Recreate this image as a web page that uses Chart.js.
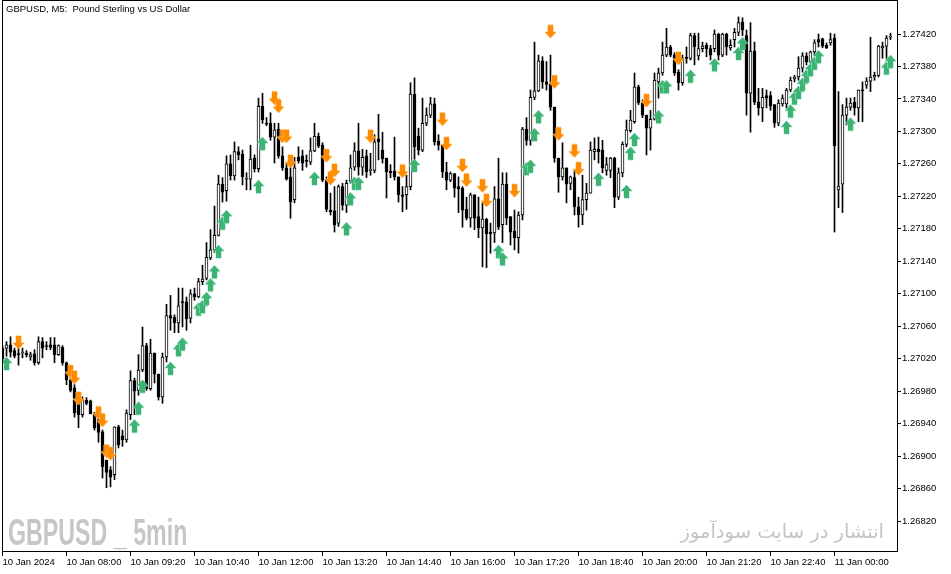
<!DOCTYPE html>
<html>
<head>
<meta charset="utf-8">
<script src="https://cdn.jsdelivr.net/npm/chart.js@4.4.1/dist/chart.umd.min.js"></script>
<style>
  html, body { margin: 0; padding: 0; background: #fff; }
  #wrap { position: relative; width: 951px; height: 574px; overflow: hidden; }
  #wrap canvas { position: absolute; left: 0; top: 0; }
  .txt { position: absolute; white-space: pre; }
  #title { left: 6px; top: 3px; font: 9.5px "Liberation Sans", Arial, sans-serif; color: #000; }
  #wmLeft { left: 8px; top: 512px; font: bold 36px "Liberation Sans", Arial, sans-serif; color: #c6c6c6; transform-origin: 0 0; transform: scaleX(0.645); }
  #wmRight { left: 660px; top: 520px; width: 224px; text-align: right; font: 19.5px "DejaVu Sans", sans-serif; color: #c4c4c4; direction: rtl; }
</style>
</head>
<body>
<div id="wrap">
  <canvas id="chart" width="951" height="574"></canvas>
  <div class="txt" id="title">GBPUSD, M5:  Pound Sterling vs US Dollar</div>
  <div class="txt" id="wmLeft">GBPUSD _ 5min</div>
  <div class="txt" id="wmRight">انتشار در سایت سودآموز</div>
</div>
<script>
  // ---------- data: GBPUSD M5, 10 Jan 2024 06:40 -> 11 Jan 01:10 ----------

  const xTickIdx = [0, 16, 32, 48, 64, 80, 96, 112, 128, 144, 160, 176, 192, 208];
  const xTickLabels = [
    "10 Jan 2024", "10 Jan 08:00", "10 Jan 09:20", "10 Jan 10:40", "10 Jan 12:00",
    "10 Jan 13:20", "10 Jan 14:40", "10 Jan 16:00", "10 Jan 17:20", "10 Jan 18:40",
    "10 Jan 20:00", "10 Jan 21:20", "10 Jan 22:40", "11 Jan 00:00"
  ];
  const yTicks = [1.26820, 1.26860, 1.26900, 1.26940, 1.26980, 1.27020, 1.27060, 1.27100,
    1.27140, 1.27180, 1.27220, 1.27260, 1.27300, 1.27340, 1.27380, 1.27420];

  const opens = [
    1.27033, 1.27033, 1.27037, 1.27030, 1.27026, 1.27027, 1.27027, 1.27022, 1.27026, 1.27015,
    1.27041, 1.27036, 1.27037, 1.27037, 1.27025, 1.27034, 1.27015, 1.26994, 1.26984, 1.26967,
    1.26951, 1.26969, 1.26968, 1.26952, 1.26945, 1.26930, 1.26895, 1.26883, 1.26877, 1.26936,
    1.26925, 1.26920, 1.26951, 1.26993, 1.26981, 1.27006, 1.27036, 1.26983, 1.27027, 1.27001,
    1.26973, 1.27022, 1.27073, 1.27071, 1.27064, 1.27090, 1.27090, 1.27070, 1.27100, 1.27096,
    1.27115, 1.27119, 1.27144, 1.27154, 1.27172, 1.27235, 1.27227, 1.27260, 1.27245, 1.27275,
    1.27272, 1.27241, 1.27241, 1.27267, 1.27254, 1.27331, 1.27310, 1.27310, 1.27293, 1.27303,
    1.27270, 1.27255, 1.27244, 1.27216, 1.27268, 1.27270, 1.27264, 1.27262, 1.27276, 1.27294,
    1.27283, 1.27240, 1.27203, 1.27202, 1.27187, 1.27232, 1.27209, 1.27239, 1.27256, 1.27276,
    1.27256, 1.27270, 1.27252, 1.27252, 1.27291, 1.27277, 1.27267, 1.27251, 1.27251, 1.27244,
    1.27222, 1.27222, 1.27232, 1.27346, 1.27294, 1.27277, 1.27310, 1.27320, 1.27334, 1.27288,
    1.27283, 1.27250, 1.27240, 1.27248, 1.27232, 1.27230, 1.27204, 1.27193, 1.27222, 1.27195,
    1.27181, 1.27192, 1.27176, 1.27175, 1.27217, 1.27185, 1.27235, 1.27195, 1.27177, 1.27169,
    1.27197, 1.27303, 1.27289, 1.27342, 1.27350, 1.27387, 1.27361, 1.27358, 1.27330, 1.27267,
    1.27244, 1.27255, 1.27236, 1.27243, 1.27207, 1.27197, 1.27216, 1.27224, 1.27275, 1.27278,
    1.27277, 1.27252, 1.27252, 1.27267, 1.27219, 1.27249, 1.27284, 1.27301, 1.27312, 1.27355,
    1.27335, 1.27320, 1.27304, 1.27315, 1.27361, 1.27372, 1.27394, 1.27404, 1.27394, 1.27373,
    1.27360, 1.27391, 1.27390, 1.27418, 1.27393, 1.27402, 1.27406, 1.27402, 1.27402, 1.27420,
    1.27394, 1.27420, 1.27403, 1.27413, 1.27422, 1.27435, 1.27418, 1.27347, 1.27399, 1.27336,
    1.27329, 1.27344, 1.27344, 1.27333, 1.27310, 1.27334, 1.27334, 1.27351, 1.27365, 1.27367,
    1.27378, 1.27393, 1.27386, 1.27398, 1.27413, 1.27414, 1.27406, 1.27409, 1.27415, 1.27228,
    1.27235, 1.27320, 1.27330, 1.27336, 1.27329, 1.27351, 1.27357, 1.27362, 1.27367, 1.27369,
    1.27403, 1.27405, 1.27416
  ];
  const highs = [
    1.27036, 1.27041, 1.27047, 1.27033, 1.27037, 1.27033, 1.27030, 1.27028, 1.27031, 1.27047,
    1.27046, 1.27041, 1.27046, 1.27046, 1.27037, 1.27036, 1.27016, 1.26996, 1.26988, 1.26969,
    1.26973, 1.26972, 1.26969, 1.26954, 1.26947, 1.26932, 1.26895, 1.26887, 1.26936, 1.26938,
    1.26932, 1.26957, 1.27005, 1.26996, 1.27025, 1.27059, 1.27039, 1.27044, 1.27027, 1.27001,
    1.27027, 1.27087, 1.27098, 1.27074, 1.27107, 1.27107, 1.27096, 1.27105, 1.27107, 1.27119,
    1.27135, 1.27163, 1.27179, 1.27208, 1.27246, 1.27243, 1.27270, 1.27271, 1.27287, 1.27281,
    1.27277, 1.27249, 1.27283, 1.27271, 1.27341, 1.27347, 1.27317, 1.27323, 1.27310, 1.27310,
    1.27281, 1.27261, 1.27261, 1.27268, 1.27281, 1.27277, 1.27271, 1.27292, 1.27310, 1.27298,
    1.27286, 1.27244, 1.27224, 1.27232, 1.27234, 1.27236, 1.27240, 1.27271, 1.27286, 1.27310,
    1.27278, 1.27277, 1.27273, 1.27296, 1.27321, 1.27299, 1.27267, 1.27259, 1.27293, 1.27244,
    1.27232, 1.27246, 1.27360, 1.27366, 1.27304, 1.27341, 1.27329, 1.27342, 1.27341, 1.27296,
    1.27283, 1.27262, 1.27250, 1.27248, 1.27244, 1.27232, 1.27219, 1.27224, 1.27222, 1.27219,
    1.27212, 1.27193, 1.27187, 1.27232, 1.27267, 1.27249, 1.27249, 1.27195, 1.27203, 1.27201,
    1.27305, 1.27317, 1.27351, 1.27410, 1.27394, 1.27392, 1.27386, 1.27394, 1.27330, 1.27267,
    1.27286, 1.27255, 1.27245, 1.27252, 1.27219, 1.27246, 1.27236, 1.27287, 1.27292, 1.27293,
    1.27289, 1.27268, 1.27268, 1.27268, 1.27255, 1.27287, 1.27314, 1.27326, 1.27372, 1.27357,
    1.27339, 1.27320, 1.27326, 1.27372, 1.27378, 1.27410, 1.27427, 1.27406, 1.27397, 1.27376,
    1.27394, 1.27404, 1.27421, 1.27421, 1.27421, 1.27410, 1.27409, 1.27406, 1.27425, 1.27421,
    1.27421, 1.27421, 1.27413, 1.27427, 1.27441, 1.27440, 1.27425, 1.27434, 1.27410, 1.27353,
    1.27353, 1.27351, 1.27349, 1.27333, 1.27339, 1.27345, 1.27353, 1.27367, 1.27369, 1.27392,
    1.27397, 1.27397, 1.27399, 1.27413, 1.27420, 1.27415, 1.27409, 1.27421, 1.27420, 1.27349,
    1.27333, 1.27341, 1.27341, 1.27342, 1.27351, 1.27361, 1.27366, 1.27416, 1.27373, 1.27406,
    1.27410, 1.27418, 1.27421
  ];
  const lows = [
    1.27016, 1.27023, 1.27022, 1.27021, 1.27012, 1.27021, 1.27022, 1.27018, 1.27012, 1.27013,
    1.27021, 1.27031, 1.27031, 1.27015, 1.27024, 1.27012, 1.26988, 1.26979, 1.26948, 1.26935,
    1.26948, 1.26963, 1.26952, 1.26932, 1.26917, 1.26873, 1.26861, 1.26862, 1.26871, 1.26910,
    1.26912, 1.26917, 1.26945, 1.26951, 1.26975, 1.27004, 1.26981, 1.26981, 1.26990, 1.26969,
    1.26965, 1.27016, 1.27055, 1.27052, 1.27052, 1.27059, 1.27055, 1.27064, 1.27092, 1.27095,
    1.27111, 1.27117, 1.27142, 1.27151, 1.27171, 1.27213, 1.27214, 1.27240, 1.27240, 1.27265,
    1.27234, 1.27228, 1.27228, 1.27250, 1.27250, 1.27310, 1.27307, 1.27289, 1.27261, 1.27267,
    1.27252, 1.27240, 1.27193, 1.27212, 1.27261, 1.27252, 1.27256, 1.27259, 1.27275, 1.27280,
    1.27238, 1.27201, 1.27197, 1.27176, 1.27183, 1.27203, 1.27200, 1.27236, 1.27252, 1.27246,
    1.27246, 1.27243, 1.27246, 1.27249, 1.27265, 1.27261, 1.27218, 1.27243, 1.27240, 1.27213,
    1.27201, 1.27204, 1.27228, 1.27265, 1.27271, 1.27275, 1.27307, 1.27317, 1.27283, 1.27277,
    1.27243, 1.27228, 1.27238, 1.27219, 1.27200, 1.27182, 1.27191, 1.27182, 1.27179, 1.27169,
    1.27133, 1.27132, 1.27150, 1.27163, 1.27179, 1.27163, 1.27185, 1.27160, 1.27154, 1.27150,
    1.27191, 1.27283, 1.27283, 1.27339, 1.27349, 1.27353, 1.27351, 1.27326, 1.27262, 1.27225,
    1.27240, 1.27212, 1.27228, 1.27197, 1.27182, 1.27185, 1.27203, 1.27224, 1.27265, 1.27261,
    1.27249, 1.27246, 1.27243, 1.27206, 1.27216, 1.27244, 1.27281, 1.27299, 1.27310, 1.27333,
    1.27317, 1.27271, 1.27277, 1.27314, 1.27341, 1.27369, 1.27392, 1.27392, 1.27369, 1.27351,
    1.27357, 1.27384, 1.27388, 1.27382, 1.27388, 1.27398, 1.27392, 1.27388, 1.27398, 1.27388,
    1.27392, 1.27394, 1.27400, 1.27404, 1.27418, 1.27418, 1.27320, 1.27299, 1.27333, 1.27320,
    1.27312, 1.27329, 1.27326, 1.27305, 1.27307, 1.27331, 1.27329, 1.27349, 1.27361, 1.27363,
    1.27373, 1.27382, 1.27384, 1.27394, 1.27404, 1.27403, 1.27402, 1.27406, 1.27176, 1.27206,
    1.27200, 1.27308, 1.27326, 1.27320, 1.27312, 1.27312, 1.27353, 1.27349, 1.27363, 1.27367,
    1.27390, 1.27390, 1.27413
  ];
  const closes = [
    1.27020, 1.27037, 1.27028, 1.27023, 1.27025, 1.27028, 1.27025, 1.27025, 1.27015, 1.27041,
    1.27033, 1.27035, 1.27034, 1.27025, 1.27036, 1.27015, 1.26994, 1.26981, 1.26953, 1.26951,
    1.26970, 1.26965, 1.26952, 1.26935, 1.26929, 1.26887, 1.26880, 1.26874, 1.26936, 1.26914,
    1.26920, 1.26953, 1.26993, 1.26980, 1.27006, 1.27036, 1.26983, 1.27027, 1.27001, 1.26973,
    1.27022, 1.27073, 1.27070, 1.27064, 1.27085, 1.27089, 1.27069, 1.27100, 1.27096, 1.27115,
    1.27118, 1.27145, 1.27154, 1.27172, 1.27235, 1.27225, 1.27260, 1.27245, 1.27275, 1.27271,
    1.27244, 1.27242, 1.27266, 1.27254, 1.27331, 1.27314, 1.27309, 1.27293, 1.27302, 1.27270,
    1.27255, 1.27241, 1.27213, 1.27255, 1.27264, 1.27261, 1.27263, 1.27276, 1.27294, 1.27282,
    1.27240, 1.27204, 1.27201, 1.27185, 1.27232, 1.27209, 1.27236, 1.27255, 1.27276, 1.27256,
    1.27268, 1.27250, 1.27253, 1.27287, 1.27287, 1.27266, 1.27250, 1.27249, 1.27244, 1.27222,
    1.27220, 1.27232, 1.27346, 1.27281, 1.27277, 1.27310, 1.27320, 1.27334, 1.27287, 1.27283,
    1.27250, 1.27240, 1.27248, 1.27230, 1.27229, 1.27203, 1.27193, 1.27222, 1.27193, 1.27181,
    1.27192, 1.27174, 1.27174, 1.27217, 1.27182, 1.27235, 1.27193, 1.27176, 1.27169, 1.27197,
    1.27303, 1.27289, 1.27342, 1.27350, 1.27387, 1.27361, 1.27358, 1.27330, 1.27267, 1.27244,
    1.27255, 1.27235, 1.27244, 1.27207, 1.27197, 1.27216, 1.27224, 1.27277, 1.27278, 1.27275,
    1.27255, 1.27259, 1.27267, 1.27219, 1.27249, 1.27284, 1.27302, 1.27314, 1.27355, 1.27335,
    1.27320, 1.27304, 1.27315, 1.27363, 1.27372, 1.27394, 1.27404, 1.27394, 1.27372, 1.27360,
    1.27390, 1.27390, 1.27418, 1.27404, 1.27402, 1.27405, 1.27402, 1.27394, 1.27420, 1.27394,
    1.27420, 1.27404, 1.27406, 1.27422, 1.27434, 1.27425, 1.27347, 1.27399, 1.27336, 1.27329,
    1.27342, 1.27341, 1.27331, 1.27310, 1.27335, 1.27341, 1.27351, 1.27363, 1.27367, 1.27378,
    1.27393, 1.27386, 1.27398, 1.27409, 1.27410, 1.27405, 1.27403, 1.27413, 1.27282, 1.27232,
    1.27320, 1.27330, 1.27335, 1.27329, 1.27351, 1.27350, 1.27362, 1.27367, 1.27369, 1.27405,
    1.27405, 1.27415, 1.27416
  ];

  // signal arrows: bar index + price of the arrow tip
  const upBars = [1, 33, 34, 35, 42, 44, 45, 49, 50, 51, 52, 53, 54, 55, 56, 64, 65, 78, 86, 87,
    88, 89, 103, 124, 125, 131, 132, 133, 134, 149, 156, 157, 158, 164, 165, 166, 172, 178, 184, 185,
    196, 197, 198, 199, 200, 201, 202, 203, 204, 212, 221, 222];
  const upPrices = [1.27022, 1.26945, 1.26967, 1.26994, 1.27016, 1.27039, 1.27046, 1.27089, 1.27092, 1.27102,
    1.27119, 1.27135, 1.27160, 1.27195, 1.27203, 1.27240, 1.27293, 1.27250, 1.27188, 1.27225,
    1.27244, 1.27244, 1.27266, 1.27160, 1.27151, 1.27262, 1.27265, 1.27304, 1.27326, 1.27249,
    1.27234, 1.27281, 1.27298, 1.27326, 1.27363, 1.27363, 1.27376, 1.27390, 1.27404, 1.27416,
    1.27313, 1.27333, 1.27349, 1.27356, 1.27366, 1.27376, 1.27384, 1.27392, 1.27400, 1.27317,
    1.27386, 1.27394];
  const downBars = [4, 17, 18, 19, 24, 25, 26, 27, 68, 69, 70, 71, 72, 81, 82, 83, 92, 100, 110, 111,
    115, 116, 120, 121, 128, 137, 138, 139, 143, 144, 161, 169];
  const downPrices = [1.27032, 1.26996, 1.26989, 1.26963, 1.26945, 1.26936, 1.26898, 1.26895, 1.27333, 1.27323,
    1.27286, 1.27286, 1.27255, 1.27262, 1.27234, 1.27244, 1.27286, 1.27243, 1.27307, 1.27277,
    1.27250, 1.27232, 1.27225, 1.27207, 1.27219, 1.27415, 1.27353, 1.27289, 1.27268, 1.27246,
    1.27330, 1.27382];

  // ---------- helpers ----------

  // arrow sprite; tip sits at the sprite centre so the point value is the tip price
  function makeArrow(up, color, halo) {
    const c = document.createElement("canvas");
    c.width = 13;
    c.height = 30;
    const g = c.getContext("2d");
    g.beginPath();
    if (up) {
      g.moveTo(6.5, 15); g.lineTo(12, 21); g.lineTo(9, 21); g.lineTo(9, 28);
      g.lineTo(4, 28); g.lineTo(4, 21); g.lineTo(1, 21);
    } else {
      g.moveTo(6.5, 15); g.lineTo(12, 9); g.lineTo(9, 9); g.lineTo(9, 2);
      g.lineTo(4, 2); g.lineTo(4, 9); g.lineTo(1, 9);
    }
    g.closePath();
    g.strokeStyle = halo;
    g.lineWidth = 1;
    g.stroke();
    g.fillStyle = color;
    g.fill();
    return c;
  }

  const frame = {
    id: "frame",
    afterDraw(chart) {
      const { ctx, chartArea: a } = chart;
      ctx.save();
      ctx.strokeStyle = "#000";
      ctx.lineWidth = 1;
      ctx.strokeRect(a.left + 0.5, a.top - 0.5, a.right - a.left, a.bottom - a.top + 1);
      ctx.restore();
    }
  };

  const noPad = (s) => { s.paddingLeft = 0; s.paddingRight = 0; s.paddingTop = 0; s.paddingBottom = 0; };

  // ---------- chart ----------

  Chart.defaults.font.family = "'Liberation Sans', Arial, sans-serif";
  Chart.defaults.font.size = 9.5;
  Chart.defaults.color = "#000";

  const bodyData = closes.map((c, i) => ({ x: i, y: [opens[i], c] }));
  const wickData = highs.map((h, i) => ({ x: i, y: [lows[i], h] }));
  const bodyFill = closes.map((c, i) => (c >= opens[i] ? "#ffffff" : "#000000"));

  new Chart(document.getElementById("chart"), {
    type: "bar",
    data: {
      datasets: [
        {
          label: "wick",
          data: wickData,
          backgroundColor: "#000",
          borderWidth: 0,
          barThickness: 1,
          grouped: false,
          order: 3
        },
        {
          label: "body",
          data: bodyData,
          backgroundColor: bodyFill,
          borderColor: "#000",
          borderWidth: 1,
          borderSkipped: false,
          barThickness: 3,
          minBarLength: 1,
          grouped: false,
          order: 2
        },
        {
          type: "line",
          label: "up",
          data: upBars.map((b, k) => ({ x: b, y: upPrices[k] })),
          showLine: false,
          pointStyle: makeArrow(true, "#3cb371", "#9fe6d2"),
          order: 1
        },
        {
          type: "line",
          label: "down",
          data: downBars.map((b, k) => ({ x: b, y: downPrices[k] })),
          showLine: false,
          pointStyle: makeArrow(false, "#ff8c00", "#ffc47a"),
          order: 1
        }
      ]
    },
    options: {
      responsive: false,
      devicePixelRatio: 1,
      animation: false,
      events: [],
      layout: { autoPadding: false, padding: { left: 2, top: 1, right: 0, bottom: 0 } },
      plugins: { legend: { display: false }, tooltip: { enabled: false } },
      scales: {
        x: {
          type: "linear",
          min: -0.125,
          max: 223.625,
          offset: false,
          border: { display: false },
          grid: { offset: false, drawOnChartArea: false, color: "#000", tickLength: 5 },
          ticks: {
            autoSkip: false,
            maxRotation: 0,
            minRotation: 0,
            align: "start",
            padding: 1,
            callback: (v, i) => xTickLabels[i]
          },
          afterBuildTicks: (s) => { s.ticks = xTickIdx.map((v) => ({ value: v })); },
          afterFit: (s) => { s.height = 23; noPad(s); }
        },
        y: {
          position: "right",
          min: 1.2678304,
          max: 1.2746066,
          border: { display: false },
          grid: { drawOnChartArea: false, color: "#000", tickLength: 4 },
          ticks: { padding: 1, callback: (v) => Number(v).toFixed(5) },
          afterBuildTicks: (s) => { s.ticks = yTicks.map((v) => ({ value: v })); },
          afterFit: (s) => { s.width = 54; noPad(s); }
        }
      }
    },
    plugins: [frame]
  });
</script>
</body>
</html>
